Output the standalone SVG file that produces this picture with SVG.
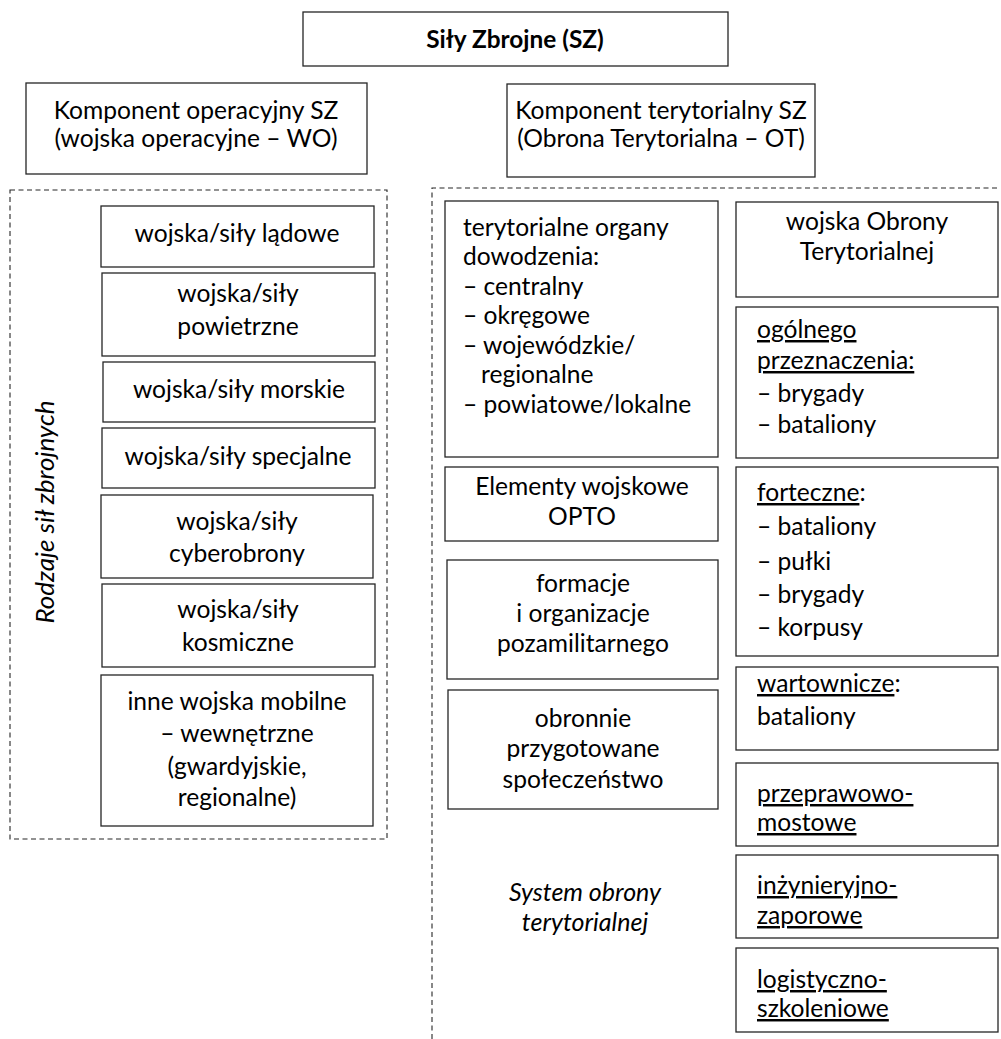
<svg xmlns="http://www.w3.org/2000/svg" width="1001" height="1039" viewBox="0 0 1001 1039">
<style>
.bg{fill:#fff}
.box{fill:#fff;stroke:#262626;stroke-width:1.3}
.frame{fill:none;stroke:#262626;stroke-width:1.1;stroke-dasharray:5 3.5}
text{font-family:Lato,"Liberation Sans",sans-serif;font-size:24.6px;fill:#000}
.c{text-anchor:middle}
.b{font-weight:bold;font-size:24.4px}
.i{font-style:italic;font-size:26px}
.s{font-size:25px}
.u{text-decoration:underline}
</style>
<rect class="bg" x="0" y="0" width="1001" height="1039"/>

<g id="frames">
<rect id="frame-wo" class="frame" x="10" y="190" width="377" height="649"/>
<path id="frame-ot" class="frame" d="M432,1039 V188 H998"/>
</g>

<g id="connectors"></g>

<g id="node-sz">
<rect class="box" x="303" y="12" width="425" height="54"/>
<text class="c b" x="515" y="48">Siły Zbrojne (SZ)</text>
</g>

<g id="node-wo">
<rect class="box" x="26" y="83" width="341" height="91"/>
<text class="c" x="196" y="119">Komponent operacyjny SZ</text>
<text class="c" x="196" y="147">(wojska operacyjne – WO)</text>
</g>

<g id="node-ot">
<rect class="box" x="507" y="84" width="308" height="93"/>
<text class="c" x="661" y="119">Komponent terytorialny SZ</text>
<text class="c" x="661" y="147">(Obrona Terytorialna – OT)</text>
</g>

<g id="label-rodzaje">
<text class="c i" x="54" y="512" transform="rotate(-90 54 512)">Rodzaje sił zbrojnych</text>
</g>

<g id="node-ladowe">
<rect class="box" x="101" y="206" width="273" height="61"/>
<text class="c" x="237" y="242">wojska/siły lądowe</text>
</g>
<g id="node-powietrzne">
<rect class="box" x="102" y="273" width="273" height="83"/>
<text class="c" x="238" y="302">wojska/siły</text>
<text class="c" x="238" y="335">powietrzne</text>
</g>
<g id="node-morskie">
<rect class="box" x="103" y="362" width="272" height="60"/>
<text class="c" x="239" y="398">wojska/siły morskie</text>
</g>
<g id="node-specjalne">
<rect class="box" x="102" y="428" width="273" height="60"/>
<text class="c" x="238" y="465">wojska/siły specjalne</text>
</g>
<g id="node-cyber">
<rect class="box" x="101" y="495" width="272" height="83"/>
<text class="c" x="237" y="530">wojska/siły</text>
<text class="c" x="237" y="562">cyberobrony</text>
</g>
<g id="node-kosmiczne">
<rect class="box" x="102" y="584" width="273" height="83"/>
<text class="c" x="238" y="618">wojska/siły</text>
<text class="c" x="238" y="651">kosmiczne</text>
</g>
<g id="node-inne">
<rect class="box" x="101" y="675" width="272" height="151"/>
<text class="c" x="237" y="710">inne wojska mobilne</text>
<text class="c" x="237" y="742">– wewnętrzne</text>
<text class="c" x="237" y="775">(gwardyjskie,</text>
<text class="c" x="237" y="806">regionalne)</text>
</g>

<g id="node-organy">
<rect class="box" x="445" y="201" width="273" height="256"/>
<text x="463" y="236">terytorialne organy</text>
<text x="463" y="265">dowodzenia:</text>
<text x="463" y="295">– centralny</text>
<text x="463" y="324">– okręgowe</text>
<text x="463" y="354">– wojewódzkie/</text>
<text x="481" y="383">regionalne</text>
<text x="463" y="413">– powiatowe/lokalne</text>
</g>
<g id="node-opto">
<rect class="box" x="445" y="467" width="273" height="74"/>
<text class="c" x="582" y="495">Elementy wojskowe</text>
<text class="c" x="582" y="525">OPTO</text>
</g>
<g id="node-formacje">
<rect class="box" x="447" y="560" width="271" height="119"/>
<text class="c" x="583" y="592">formacje</text>
<text class="c" x="583" y="622">i organizacje</text>
<text class="c" x="583" y="652">pozamilitarnego</text>
</g>
<g id="node-spoleczenstwo">
<rect class="box" x="448" y="690" width="270" height="119"/>
<text class="c" x="583" y="727">obronnie</text>
<text class="c" x="583" y="757">przygotowane</text>
<text class="c" x="583" y="788">społeczeństwo</text>
</g>
<g id="label-system">
<text class="c i s" x="585" y="901">System obrony</text>
<text class="c i s" x="585" y="931">terytorialnej</text>
</g>

<g id="node-wot">
<rect class="box" x="736" y="202" width="262" height="95"/>
<text class="c" x="867" y="230">wojska Obrony</text>
<text class="c" x="867" y="260">Terytorialnej</text>
</g>
<g id="node-ogolnego">
<rect class="box" x="736" y="307" width="262" height="151"/>
<text class="u" x="757" y="338">ogólnego</text>
<text class="u" x="757" y="369">przeznaczenia:</text>
<text x="757" y="402">– brygady</text>
<text x="757" y="433">– bataliony</text>
</g>
<g id="node-forteczne">
<rect class="box" x="736" y="467" width="262" height="189"/>
<text x="757" y="501"><tspan class="u">forteczne</tspan>:</text>
<text x="757" y="535">– bataliony</text>
<text x="757" y="570">– pułki</text>
<text x="757" y="603">– brygady</text>
<text x="757" y="636">– korpusy</text>
</g>
<g id="node-wartownicze">
<rect class="box" x="736" y="667" width="262" height="83"/>
<text x="757" y="692"><tspan class="u">wartownicze</tspan>:</text>
<text x="757" y="725">bataliony</text>
</g>
<g id="node-przeprawowo">
<rect class="box" x="736" y="763" width="262" height="83"/>
<text class="u" x="757" y="802">przeprawowo-</text>
<text class="u" x="757" y="831">mostowe</text>
</g>
<g id="node-inzynieryjno">
<rect class="box" x="736" y="855" width="262" height="83"/>
<text class="u" x="757" y="894">inżynieryjno-</text>
<text class="u" x="757" y="924">zaporowe</text>
</g>
<g id="node-logistyczno">
<rect class="box" x="736" y="948" width="262" height="84"/>
<text class="u" x="757" y="988">logistyczno-</text>
<text class="u" x="757" y="1017">szkoleniowe</text>
</g>
</svg>
